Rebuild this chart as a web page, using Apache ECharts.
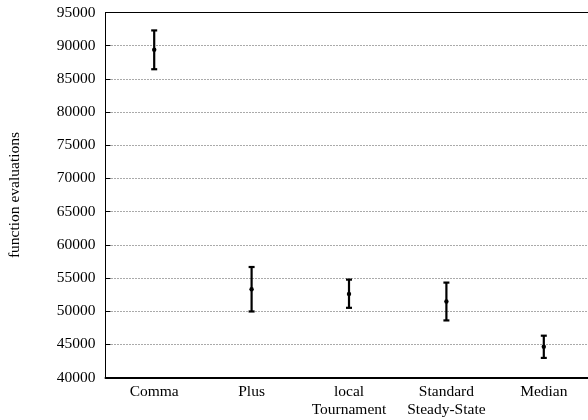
<!DOCTYPE html>
<html><head><meta charset="utf-8">
<script src="https://cdn.jsdelivr.net/npm/echarts@6/dist/echarts.min.js"></script>
<style>html,body{margin:0;padding:0;background:#fff}#c{width:588px;height:420px}</style>
</head><body><div id="c"></div>
<script>
var categories = ['Comma', 'Plus', 'local\nTournament', 'Standard\nSteady-State', 'Median'];
var means = [89400, 53300, 52600, 51450, 44650];
var lows  = [86450, 49950, 50500, 48600, 42950];
var highs = [92300, 56650, 54750, 54300, 46300];
var yTicks = [40000, 45000, 50000, 55000, 60000, 65000, 70000, 75000, 80000, 85000, 90000, 95000];

var font = 'Liberation Serif';
var chart = echarts.init(document.getElementById('c'));
var data = categories.map(function (c, i) { return [i, means[i], lows[i], highs[i]]; });
chart.setOption({
  animation: false,
  grid: { left: 105.5, top: 12.5, width: 487, height: 365, containLabel: false, outerBoundsMode: 'none' },
  xAxis: [{
    type: 'category', data: categories, boundaryGap: true,
    axisLine: { lineStyle: { color: '#000', width: 2 } },
    axisTick: { alignWithLabel: true, inside: true, length: 5, interval: 0, lineStyle: { color: '#000' } },
    axisLabel: { interval: 0, hideOverlap: false, fontFamily: font, fontSize: 15.5, color: '#000', margin: 6, lineHeight: 17.5 },
    splitLine: { show: false }
  }, {
    type: 'category', data: categories, position: 'top', boundaryGap: true,
    axisLine: { lineStyle: { color: '#000', width: 1 } },
    axisTick: { alignWithLabel: true, inside: true, length: 5, interval: 0, lineStyle: { color: '#000' } },
    axisLabel: { show: false }
  }],
  yAxis: {
    type: 'value', min: 40000, max: 95000, interval: 5000,
    name: 'function evaluations', nameLocation: 'middle', nameGap: 83, nameRotate: 90,
    nameTextStyle: { fontFamily: font, fontSize: 15.5, color: '#000' },
    axisLine: { show: true, lineStyle: { color: '#000', width: 1 } },
    axisTick: { show: true, inside: true, length: 5, lineStyle: { color: '#000' } },
    axisLabel: { fontFamily: font, fontSize: 15.5, color: '#000', margin: 10, hideOverlap: false,
      formatter: function (v) { return yTicks.indexOf(v) >= 0 ? String(v) : ''; } },
    splitLine: { show: true, lineStyle: { color: '#555', type: [1, 2], width: 1 } }
  },
  series: [{
    type: 'custom',
    data: data,
    renderItem: function (params, api) {
      var x = api.value(0);
      var pm = api.coord([x, api.value(1)]);
      var pl = api.coord([x, api.value(2)]);
      var ph = api.coord([x, api.value(3)]);
      var cw = 3;
      var st = { stroke: '#000', lineWidth: 2.2 };
      return {
        type: 'group',
        children: [
          { type: 'line', shape: { x1: pl[0], y1: pl[1], x2: ph[0], y2: ph[1] }, style: st },
          { type: 'line', shape: { x1: pl[0] - cw, y1: pl[1], x2: pl[0] + cw, y2: pl[1] }, style: st },
          { type: 'line', shape: { x1: ph[0] - cw, y1: ph[1], x2: ph[0] + cw, y2: ph[1] }, style: st },
          { type: 'circle', shape: { cx: pm[0], cy: pm[1], r: 2.2 }, style: { fill: '#000' } }
        ]
      };
    }
  }]
});
</script></body></html>
